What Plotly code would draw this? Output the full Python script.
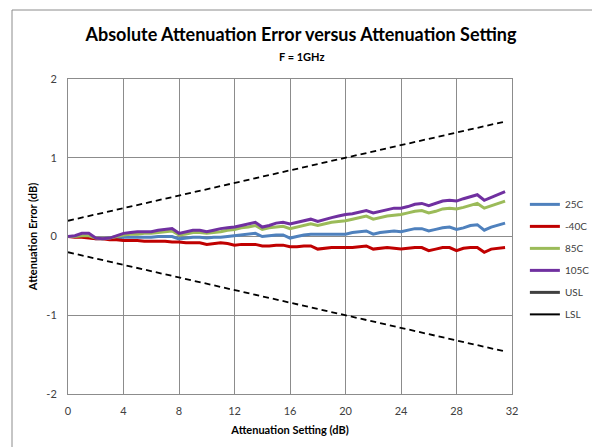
import plotly.graph_objects as go

setting = [i * 0.5 for i in range(64)]

err_25c = [0.00, 0.00, 0.00, -0.01, -0.03, -0.03, -0.02, -0.02, -0.01, -0.01, -0.01, -0.01, -0.01, 0.00, 0.00, 0.00,
           -0.03, -0.02, -0.01, -0.01, -0.02, -0.01, -0.01, 0.00, 0.01, 0.02, 0.03, 0.04, 0.00, 0.01, 0.02, 0.02,
           -0.02, 0.00, 0.02, 0.03, 0.03, 0.03, 0.03, 0.03, 0.03, 0.05, 0.06, 0.07, 0.03, 0.05, 0.06, 0.07,
           0.06, 0.08, 0.10, 0.10, 0.07, 0.09, 0.11, 0.12, 0.09, 0.11, 0.14, 0.15, 0.08, 0.12, 0.15, 0.17]
err_m40c = [0.00, -0.01, -0.01, -0.02, -0.03, -0.03, -0.04, -0.04, -0.05, -0.05, -0.05, -0.06, -0.06, -0.06, -0.06, -0.07,
            -0.07, -0.08, -0.08, -0.08, -0.10, -0.09, -0.08, -0.09, -0.11, -0.10, -0.10, -0.10, -0.12, -0.12, -0.11, -0.11,
            -0.13, -0.13, -0.12, -0.12, -0.16, -0.15, -0.14, -0.14, -0.14, -0.14, -0.13, -0.12, -0.16, -0.15, -0.14, -0.15,
            -0.16, -0.15, -0.14, -0.14, -0.18, -0.16, -0.14, -0.14, -0.18, -0.15, -0.14, -0.14, -0.20, -0.16, -0.15, -0.14]
err_85c = [0.00, 0.00, 0.01, 0.01, -0.02, -0.03, -0.02, 0.00, 0.02, 0.03, 0.03, 0.04, 0.04, 0.05, 0.06, 0.07,
           0.02, 0.03, 0.05, 0.05, 0.04, 0.05, 0.06, 0.08, 0.09, 0.11, 0.12, 0.14, 0.09, 0.11, 0.12, 0.13,
           0.10, 0.12, 0.14, 0.16, 0.14, 0.16, 0.18, 0.19, 0.20, 0.22, 0.24, 0.26, 0.22, 0.24, 0.26, 0.27,
           0.28, 0.30, 0.32, 0.33, 0.30, 0.32, 0.35, 0.36, 0.35, 0.37, 0.40, 0.42, 0.36, 0.39, 0.42, 0.45]
err_105c = [0.00, 0.01, 0.04, 0.04, -0.02, -0.03, -0.02, 0.01, 0.04, 0.05, 0.06, 0.06, 0.06, 0.08, 0.09, 0.10,
            0.04, 0.06, 0.08, 0.08, 0.06, 0.08, 0.10, 0.11, 0.12, 0.14, 0.16, 0.18, 0.12, 0.14, 0.17, 0.18,
            0.16, 0.18, 0.20, 0.22, 0.19, 0.22, 0.24, 0.26, 0.28, 0.29, 0.31, 0.33, 0.30, 0.32, 0.34, 0.36,
            0.36, 0.38, 0.41, 0.42, 0.39, 0.42, 0.45, 0.46, 0.45, 0.48, 0.51, 0.53, 0.46, 0.50, 0.54, 0.57]

limit_x = [0, 31.5]
usl = [0.2, 1.46]
lsl = [-0.2, -1.46]

x_ticks = [0, 4, 8, 12, 16, 20, 24, 28, 32]
y_ticks = [-2, -1, 0, 1, 2]
y_tick_text = ["-2", "-1", "0", "1", "2"]

FONT = "Lato"
# page body has an 8px margin: figure coordinates = page coordinates - 8
W, H = 592, 439
fig = go.Figure()

series = [("25C", err_25c, "#4F81BD"), ("-40C", err_m40c, "#C00000"),
          ("85C", err_85c, "#9BBB59"), ("105C", err_105c, "#7030A0")]
for name, vals, col in series:
    fig.add_trace(go.Scatter(x=setting, y=vals, mode="lines", name=name, legendgroup=name,
                             line=dict(color=col, width=3)))

fig.add_trace(go.Scatter(x=limit_x, y=usl, mode="lines", showlegend=False,
                         line=dict(color="black", width=1.8, dash="6px,4px")))
fig.add_trace(go.Scatter(x=limit_x, y=lsl, mode="lines", showlegend=False,
                         line=dict(color="black", width=1.8, dash="6px,4px")))
fig.add_trace(go.Scatter(x=[None], y=[None], mode="lines", name="USL", legendgroup="USL",
                         line=dict(color="#404040", width=3)))
fig.add_trace(go.Scatter(x=[None], y=[None], mode="lines", name="LSL", legendgroup="LSL",
                         line=dict(color="black", width=2)))

fig.update_layout(
    width=W, height=H,
    margin=dict(l=60, r=88, t=71, b=53, autoexpand=False),
    paper_bgcolor="white", plot_bgcolor="white",
    font=dict(family=FONT, size=11, color="#404040"),
    title=dict(text="<b>Absolute Attenuation Error versus Attenuation Setting</b>",
               font=dict(family=FONT, size=18, color="black"),
               x=293 / W, xanchor="center", y=1 - 27 / H, yanchor="middle"),
    showlegend=True,
    legend=dict(x=1.029, xanchor="left", y=0.648, yanchor="top",
                font=dict(family=FONT, size=10, color="#404040"),
                tracegroupgap=3, itemwidth=30, bgcolor="rgba(0,0,0,0)"),
    xaxis=dict(range=[0, 32], tickvals=x_ticks, showgrid=True, gridcolor="#8C8C8C", gridwidth=1,
               showline=True, linecolor="#8C8C8C", linewidth=1, mirror=True, zeroline=False,
               ticks="", tickfont=dict(size=11, color="#404040"), automargin=False, ticklabelstandoff=7,
               title=dict(text="<b>Attenuation Setting (dB)</b>", font=dict(size=11, color="black"), standoff=10)),
    yaxis=dict(range=[-2, 2], tickvals=y_ticks, ticktext=y_tick_text, showgrid=True, gridcolor="#8C8C8C",
               gridwidth=1, showline=True, linecolor="#8C8C8C", linewidth=1, mirror=True, zeroline=False,
               ticks="", tickfont=dict(size=11, color="#404040"), automargin=False, ticklabelstandoff=8,
               title=dict(text="<b>Attenuation Error (dB)</b>", font=dict(size=11, color="black"), standoff=6)),
)

fig.add_annotation(text="<b>F = 1GHz</b>", xref="paper", yref="paper",
                   x=(301 - 68) / 444, y=(394 - 56) / 315, xanchor="center", yanchor="middle",
                   showarrow=False, font=dict(family=FONT, size=11, color="black"))

# outer chart border (left and top edges visible)
fig.add_shape(type="line", xref="paper", yref="paper", x0=(12 - 68) / 444, x1=(12 - 68) / 444,
              y0=(394 - 10) / 315, y1=-0.3, line=dict(color="#8C8C8C", width=1))
fig.add_shape(type="line", xref="paper", yref="paper", x0=(12 - 68) / 444, x1=1.3,
              y0=(394 - 10) / 315, y1=(394 - 10) / 315, line=dict(color="#8C8C8C", width=1))

fig.write_html("out.html")
